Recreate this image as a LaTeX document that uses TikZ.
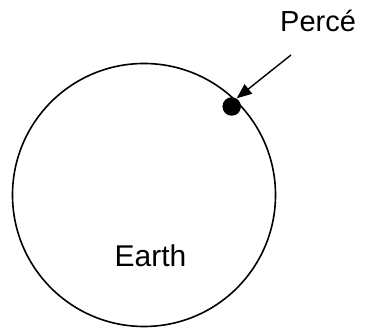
\documentclass[tikz,border=0pt]{standalone}
\usepackage{fontspec}
\setmainfont{Liberation Sans}
\usetikzlibrary{arrows.meta}
\begin{document}
\begin{tikzpicture}[x=1pt,y=1pt,
  outline/.style={line width=1.6pt},
  lbl/.style={inner sep=0pt, font=\fontsize{30}{36}\selectfont}]
\useasboundingbox (0,0) rectangle (365,328);
\node[draw, outline, circle, minimum size=263pt, inner sep=0pt] (earth) at (144,133) {};
\node[lbl, anchor=base] (earthlbl) at (150.5,61.3) {Earth};
\node[circle, fill=black, minimum size=18.5pt, inner sep=0pt] (perce) at (231.7,221.5) {};
\node[lbl, font=\fontsize{29}{34}\selectfont, anchor=base west] (percelbl) at (280,296.3) {Percé};
\coordinate (tail) at (291,273);
\coordinate (tip) at (236.7,229.7);
\draw[line width=1.4pt, -{Triangle[length=15pt,width=12pt]}] (tail) -- (tip);
\end{tikzpicture}
\end{document}
